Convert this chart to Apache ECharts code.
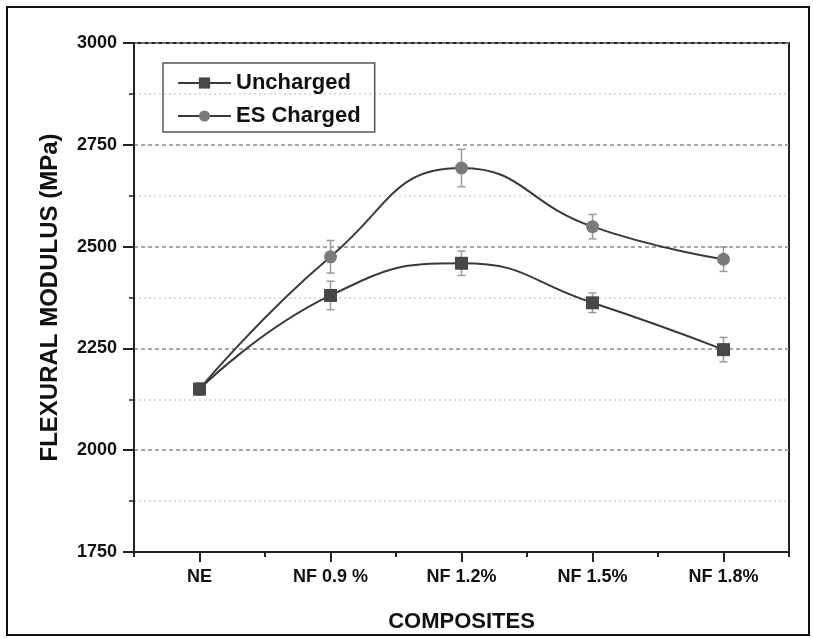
<!DOCTYPE html>
<html>
<head>
<meta charset="utf-8">
<script src="https://cdn.jsdelivr.net/npm/echarts@6/dist/echarts.min.js"></script>
<style>
html,body{margin:0;padding:0;background:#fff;}
#main{width:813px;height:638px;}
</style>
</head>
<body>
<div id="main"></div>
<script>
// data
var categories = ['NE', 'NF 0.9 %', 'NF 1.2%', 'NF 1.5%', 'NF 1.8%'];
var uncharged = [2150, 2380, 2459, 2362, 2247];
var unchargedErr = [15, 35, 30, 24, 30];
var esCharged = [2150, 2475, 2693, 2549, 2469];
var esChargedErr = [15, 40, 46, 30, 30];
var yTicks = [1750, 2000, 2250, 2500, 2750, 3000];

var myChart = echarts.init(document.getElementById('main'));
var font = 'Liberation Sans, Arial, sans-serif';

// error bars via custom series
function errBars(vals, errs) {
	return vals.map(function (v, i) {
		return [i, v - errs[i], v + errs[i]];
	});
}
function renderErr(params, api) {
	var lo = api.coord([api.value(0), api.value(1)]);
	var hi = api.coord([api.value(0), api.value(2)]);
	var w = 4;
	var st = {stroke: '#9a9a9a', lineWidth: 1.5};
	return {
		type: 'group',
		children: [
			{type: 'line', shape: {x1: lo[0], y1: lo[1], x2: hi[0], y2: hi[1]}, style: st},
			{type: 'line', shape: {x1: lo[0] - w, y1: lo[1], x2: lo[0] + w, y2: lo[1]}, style: st},
			{type: 'line', shape: {x1: hi[0] - w, y1: hi[1], x2: hi[0] + w, y2: hi[1]}, style: st}
		]
	};
}

var option = {
	backgroundColor: '#fff',
	animation: false,
	graphic: [{
		type: 'rect',
		shape: {x: 7, y: 7, width: 802, height: 628},
		style: {fill: null, stroke: '#111', lineWidth: 2},
		silent: true
	}],
	grid: {
		left: 134, right: 24, top: 43, bottom: 84,
		show: true, borderColor: '#222', borderWidth: 2
	},
	legend: {
		data: ['Uncharged', 'ES Charged'],
		orient: 'vertical',
		left: 163, top: 63,
		padding: [8, 14, 4, 14],
		itemGap: 9,
		itemWidth: 53, itemHeight: 14,
		borderColor: '#555', borderWidth: 1.5,
		textStyle: {fontFamily: font, fontWeight: 'bold', fontSize: 22, color: '#111', lineHeight: 24}
	},
	xAxis: [{
		type: 'category',
		data: categories,
		boundaryGap: true,
		name: 'COMPOSITES',
		nameLocation: 'middle',
		nameGap: 59,
		nameTextStyle: {fontFamily: font, fontWeight: 'bold', fontSize: 22, color: '#111'},
		axisLine: {lineStyle: {color: '#222', width: 2}},
		axisTick: {show: true, alignWithLabel: true, length: 10, lineStyle: {color: '#222', width: 2}},
		axisLabel: {fontFamily: font, fontWeight: 'bold', fontSize: 18, color: '#111', margin: 16},
		splitLine: {show: false}
	}, {
		// boundary (minor) ticks
		type: 'category',
		data: categories,
		position: 'bottom',
		boundaryGap: true,
		axisLine: {show: false},
		axisTick: {show: true, length: 5, lineStyle: {color: '#222', width: 2}},
		axisLabel: {show: false},
		splitLine: {show: false}
	}],
	yAxis: {
		type: 'value',
		min: 1750, max: 3000, interval: 250,
		name: 'FLEXURAL MODULUS (MPa)',
		nameLocation: 'middle',
		nameGap: 72,
		nameTextStyle: {fontFamily: font, fontWeight: 'bold', fontSize: 24, color: '#111'},
		axisLine: {show: true, lineStyle: {color: '#222', width: 2}},
		axisTick: {show: true, length: 11, lineStyle: {color: '#222', width: 2}},
		minorTick: {show: true, splitNumber: 2, length: 5, lineStyle: {color: '#222', width: 1.5}},
		axisLabel: {
			fontFamily: font, fontWeight: 'bold', fontSize: 18, color: '#111', margin: 17,
			formatter: function (v) { return yTicks.indexOf(v) >= 0 ? String(v) : ''; }
		},
		splitLine: {show: true, lineStyle: {color: '#8a8a8a', width: 1.5, type: [4, 3]}},
		minorSplitLine: {show: true, lineStyle: {color: '#cfcfcf', width: 1.5, type: [2, 3]}}
	},
	series: [{
		name: 'ES Charged err',
		type: 'custom',
		xAxisIndex: 1,
		renderItem: renderErr,
		data: errBars(esCharged, esChargedErr),
		encode: {x: 0, y: [1, 2]},
		z: 1
	}, {
		name: 'Uncharged err',
		type: 'custom',
		xAxisIndex: 1,
		renderItem: renderErr,
		data: errBars(uncharged, unchargedErr),
		encode: {x: 0, y: [1, 2]},
		z: 1
	}, {
		name: 'ES Charged',
		type: 'line',
		data: esCharged,
		smooth: 0.5,
		symbol: 'circle',
		symbolSize: 13,
		itemStyle: {color: '#7a7a7a'},
		lineStyle: {color: '#3a3a3a', width: 2},
		z: 3
	}, {
		name: 'Uncharged',
		type: 'line',
		data: uncharged,
		smooth: 0.5,
		symbol: 'rect',
		symbolSize: 13,
		itemStyle: {color: '#474747'},
		lineStyle: {color: '#3a3a3a', width: 2},
		z: 4
	}]
};

myChart.setOption(option);
</script>
</body>
</html>
